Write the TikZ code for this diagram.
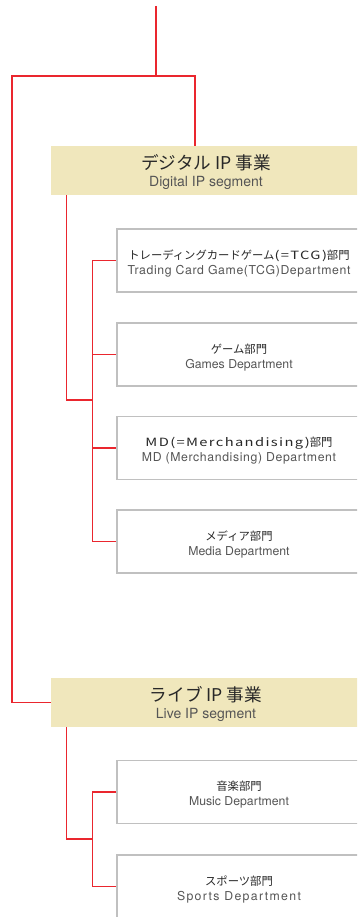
\documentclass[tikz,border=0pt]{standalone}
\usepackage{fontspec}
\setmainfont{TeX Gyre Heros}
\newfontfamily\jpfont{Noto Sans CJK JP}
\newfontfamily\jpwide[FakeStretch=1.3,LetterSpace=12]{Noto Sans CJK JP}
\newfontfamily\enwide[LetterSpace=5]{TeX Gyre Heros}
\newfontfamily\enwider[LetterSpace=11]{TeX Gyre Heros}

\definecolor{linered}{RGB}{234,38,46}
\definecolor{segfill}{RGB}{240,231,188}
\definecolor{boxgray}{RGB}{192,192,192}
\definecolor{jptext}{RGB}{40,40,40}
\definecolor{entext}{RGB}{85,85,85}

\tikzset{
  redline/.style={draw=linered, line width=0.9pt},
  segbox/.style={fill=segfill, minimum width=232.5pt, minimum height=36.75pt, inner sep=0pt, align=center},
  deptbox/.style={draw=boxgray, line width=0.9pt, fill=white, minimum width=183pt, minimum height=47.25pt, inner sep=0pt, align=center},
}
\newcommand{\segtext}[2]{{\rule{0pt}{14pt}\jpfont\color{jptext}\fontsize{13.2}{15}\selectfont #1}\\[0.5pt]{\color{entext}\fontsize{10.5}{12}\selectfont #2}}
\newcommand{\depttext}[2]{{\rule{0pt}{11.3pt}\jpfont\color{jptext}\fontsize{8.5}{10}\selectfont #1}\\[-0.5pt]{\color{entext}\fontsize{9.2}{11}\selectfont #2}}

\begin{document}
\begin{tikzpicture}[x=0.75pt,y=0.75pt,yscale=-1,xscale=1]
\useasboundingbox (0,0) rectangle (357,917);
\clip (0,0) rectangle (357,917);

% Segments
\node [segbox] (digital) at (206,170.5) {\segtext{デジタル IP 事業}{Digital IP segment}};
\node [segbox] (live) at (206,702.5) {\segtext{ライブ IP 事業}{Live IP segment}};

% Departments
\node [deptbox] (tcg) at (239,260.5) {\depttext{トレーディングカードゲーム{\jpwide(=TCG)}部門}{{\enwide Trading Card Game(TCG)Department}}};
\node [deptbox] (games) at (239,354.5) {\depttext{ゲーム部門}{Games Department}};
\node [deptbox] (md) at (239,448) {\depttext{{\jpwide MD(=Merchandising)}部門}{{\enwide MD (Merchandising) Department}}};
\node [deptbox] (media) at (239,541.5) {\depttext{メディア部門}{Media Department}};
\node [deptbox] (music) at (239,792) {\depttext{音楽部門}{Music Department}};
\node [deptbox] (sports) at (239,886.5) {\depttext{スポーツ部門}{{\enwider Sports Department}}};

% Joints
\coordinate (root) at (156,6);
\coordinate (trunk) at (12,76);
\coordinate (djoin) at (93,400);
\coordinate (ljoin) at (93,839);

% Top level
\draw [redline, line width=1.5pt] (root) -- (root |- trunk);
\draw [redline] ([xshift=-8.25pt]digital.north) |- (trunk) |- (live.west);

% Digital IP
\draw [redline] ([xshift=12pt]digital.south west) |- (djoin);
\draw [redline] ([xshift=-18pt]tcg.west) -- (tcg.west);
\draw [redline] ([xshift=-18pt]tcg.west) |- (media.west);
\draw [redline] ([xshift=-18pt]games.west) -- (games.west);
\draw [redline] ([xshift=-18pt]md.west) -- (md.west);

% Live IP
\draw [redline] ([xshift=12pt]live.south west) |- (ljoin);
\draw [redline] ([xshift=-18pt]music.west) |- (sports.west);
\draw [redline] ([xshift=-18pt]music.west) -- (music.west);

\end{tikzpicture}
\end{document}
